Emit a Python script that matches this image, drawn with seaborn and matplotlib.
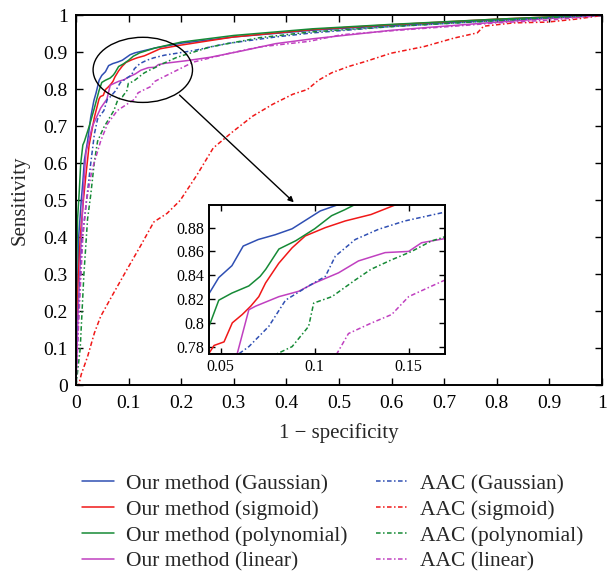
import matplotlib
matplotlib.use("Agg")
import matplotlib.pyplot as plt
import seaborn as sns
from matplotlib.patches import Ellipse
from matplotlib.ticker import FormatStrFormatter

# ROC curves (x = 1 - specificity, y = sensitivity)
our_gauss_x = [0, 0.002, 0.005, 0.010, 0.013, 0.016, 0.022, 0.028, 0.034, 0.038, 0.044, 0.049, 0.056, 0.062,
               0.070, 0.079, 0.088, 0.096, 0.103, 0.112, 0.150, 0.200, 0.300, 0.450, 0.600, 0.800, 0.900, 1.0]
our_gauss_y = [0, 0.20, 0.40, 0.50, 0.55, 0.61, 0.66, 0.725, 0.77, 0.79, 0.825, 0.838, 0.848, 0.8645,
               0.870, 0.874, 0.879, 0.887, 0.894, 0.899, 0.912, 0.925, 0.942, 0.960, 0.973, 0.988, 0.995, 1.0]

our_sigm_x = [0, 0.003, 0.008, 0.014, 0.019, 0.025, 0.035, 0.0438, 0.0465, 0.0518, 0.0562, 0.0615, 0.066, 0.0703,
              0.0739, 0.0809, 0.088, 0.095, 0.1057, 0.1163, 0.130, 0.1428, 0.160, 0.200, 0.300, 0.450, 0.600,
              0.800, 0.900, 1.0]
our_sigm_y = [0, 0.25, 0.40, 0.50, 0.57, 0.65, 0.725, 0.7744, 0.781, 0.784, 0.800, 0.807, 0.814, 0.822,
              0.8335, 0.850, 0.863, 0.873, 0.880, 0.8856, 0.891, 0.899, 0.910, 0.920, 0.942, 0.962, 0.975,
              0.990, 0.996, 1.0]

our_poly_x = [0, 0.001, 0.003, 0.006, 0.009, 0.013, 0.016, 0.025, 0.035, 0.0438, 0.049, 0.056, 0.065, 0.071,
              0.074, 0.081, 0.090, 0.100, 0.109, 0.116, 0.121, 0.150, 0.200, 0.300, 0.450, 0.600, 0.800, 0.900, 1.0]
our_poly_y = [0, 0.30, 0.45, 0.52, 0.60, 0.65, 0.66, 0.70, 0.75, 0.797, 0.819, 0.825, 0.831, 0.839,
              0.845, 0.862, 0.869, 0.879, 0.890, 0.895, 0.899, 0.912, 0.928, 0.946, 0.964, 0.976, 0.990, 0.996, 1.0]

our_lin_x = [0, 0.004, 0.010, 0.015, 0.019, 0.031, 0.047, 0.0588, 0.065, 0.0686, 0.081, 0.0915, 0.100, 0.1127,
             0.1233, 0.1375, 0.150, 0.1569, 0.169, 0.211, 0.255, 0.318, 0.380, 0.450, 0.600, 0.800, 0.900, 1.0]
our_lin_y = [0, 0.20, 0.40, 0.55, 0.63, 0.70, 0.75, 0.774, 0.811, 0.814, 0.822, 0.8265, 0.8335, 0.842,
             0.852, 0.859, 0.860, 0.8673, 0.8707, 0.878, 0.887, 0.905, 0.924, 0.937, 0.960, 0.982, 0.992, 1.0]

aac_gauss_x = [0, 0.005, 0.012, 0.020, 0.028, 0.035, 0.041, 0.053, 0.0597, 0.065, 0.0756, 0.0845, 0.0968, 0.1057,
               0.111, 0.1216, 0.134, 0.148, 0.1684, 0.192, 0.223, 0.286, 0.380, 0.450, 0.600, 0.800, 0.900, 1.0]
aac_gauss_y = [0, 0.20, 0.40, 0.50, 0.60, 0.68, 0.72, 0.743, 0.774, 0.780, 0.797, 0.819, 0.831, 0.839,
               0.856, 0.870, 0.8786, 0.8856, 0.8927, 0.898, 0.905, 0.924, 0.942, 0.953, 0.970, 0.986, 0.994, 1.0]

aac_sigm_x = [0, 0.005, 0.010, 0.022, 0.035, 0.047, 0.072, 0.0975, 0.123, 0.148, 0.173, 0.198, 0.230, 0.261,
              0.299, 0.336, 0.374, 0.412, 0.440, 0.461, 0.486, 0.518, 0.549, 0.599, 0.662, 0.719, 0.763, 0.775,
              0.832, 0.895, 0.950, 1.0]
aac_sigm_y = [0, 0.0, 0.03, 0.078, 0.142, 0.187, 0.251, 0.315, 0.378, 0.442, 0.465, 0.500, 0.569, 0.642,
              0.687, 0.728, 0.760, 0.787, 0.800, 0.825, 0.845, 0.862, 0.875, 0.898, 0.916, 0.939, 0.953, 0.971,
              0.980, 0.982, 0.990, 1.0]

aac_poly_x = [0, 0.008, 0.015, 0.022, 0.028, 0.035, 0.041, 0.053, 0.072, 0.080, 0.088, 0.0968, 0.0995, 0.1092,
              0.1216, 0.130, 0.141, 0.1516, 0.162, 0.168, 0.192, 0.255, 0.349, 0.443, 0.600, 0.800, 0.900, 1.0]
aac_poly_y = [0, 0.10, 0.30, 0.45, 0.515, 0.605, 0.66, 0.698, 0.743, 0.774, 0.780, 0.797, 0.8166, 0.822,
              0.836, 0.845, 0.853, 0.860, 0.8687, 0.8716, 0.887, 0.915, 0.940, 0.955, 0.970, 0.986, 0.994, 1.0]

aac_lin_x = [0, 0.006, 0.013, 0.020, 0.030, 0.047, 0.060, 0.0785, 0.1118, 0.118, 0.130, 0.141, 0.150, 0.162,
             0.168, 0.223, 0.286, 0.349, 0.443, 0.505, 0.612, 0.738, 0.800, 0.895, 1.0]
aac_lin_y = [0, 0.20, 0.40, 0.50, 0.58, 0.661, 0.707, 0.743, 0.774, 0.791, 0.7997, 0.807, 0.822, 0.8307,
             0.835, 0.874, 0.896, 0.915, 0.930, 0.948, 0.960, 0.973, 0.980, 0.987, 1.0]

labels = ["Our method (Gaussian)", "Our method (sigmoid)", "Our method (polynomial)", "Our method (linear)",
          "AAC (Gaussian)", "AAC (sigmoid)", "AAC (polynomial)", "AAC (linear)"]
curves = [(our_gauss_x, our_gauss_y), (our_sigm_x, our_sigm_y), (our_poly_x, our_poly_y), (our_lin_x, our_lin_y),
          (aac_gauss_x, aac_gauss_y), (aac_sigm_x, aac_sigm_y), (aac_poly_x, aac_poly_y), (aac_lin_x, aac_lin_y)]
colors = ["#2f4fb3", "#f01818", "#168a36", "#c040c0"] * 2
dashdot = (0, (3, 1.6, 1, 1.6))
styles = ["-"] * 4 + [dashdot] * 4

sns.set_style("ticks")
plt.rcParams["font.family"] = ["Liberation Serif", "DejaVu Serif"]

fig = plt.figure(figsize=(6.07, 5.71), dpi=100)
ax = fig.add_axes([0.1252, 0.3249, 0.8665, 0.648])

handles = []
for (xs, ys), c, ls, lab in zip(curves, colors, styles, labels):
    sns.lineplot(x=xs, y=ys, ax=ax, color=c, linestyle=ls, lw=1.1, sort=False, estimator=None, legend=False)
    line = ax.lines[-1]
    line.set_label(lab)
    handles.append(line)

ax.set_xlim(0, 1)
ax.set_ylim(0, 1)
ax.set_xticks([i / 10 for i in range(11)])
ax.set_yticks([i / 10 for i in range(11)])
ax.xaxis.set_major_formatter(FormatStrFormatter("%g"))
ax.yaxis.set_major_formatter(FormatStrFormatter("%g"))
ax.tick_params(direction="in", top=True, right=True, length=5, width=1, labelsize=14, colors="black")
ax.tick_params(axis="x", pad=7)
ax.tick_params(axis="y", pad=6)
for sp in ax.spines.values():
    sp.set_linewidth(1.4)
    sp.set_color("black")
ax.set_xlabel("1 \u2212 specificity", fontsize=15, labelpad=8)
ax.set_ylabel("Sensitivity", fontsize=15, labelpad=10)

# zoom ellipse and arrow
ax.add_patch(Ellipse((0.127, 0.853), 0.189, 0.176, fill=False, ec="black", lw=1.0, zorder=5))
ax.annotate("", xy=(0.418, 0.49), xytext=(0.193, 0.79),
            arrowprops=dict(arrowstyle="-|>", color="black", lw=1.0, mutation_scale=8), zorder=6)

# inset
axin = fig.add_axes([0.3443, 0.380, 0.389, 0.261])
for (xs, ys), c, ls in zip(curves, colors, styles):
    sns.lineplot(x=xs, y=ys, ax=axin, color=c, linestyle=ls, lw=1.1, sort=False, estimator=None, legend=False)
axin.set_xlim(0.0438, 0.1694)
axin.set_ylim(0.7738, 0.899)
axin.set_xticks([0.05, 0.1, 0.15])
axin.set_yticks([0.78, 0.8, 0.82, 0.84, 0.86, 0.88])
axin.xaxis.set_major_formatter(FormatStrFormatter("%g"))
axin.yaxis.set_major_formatter(FormatStrFormatter("%g"))
axin.tick_params(direction="in", top=True, right=True, length=4, width=1, labelsize=11.5, colors="black")
axin.set_xlabel("")
axin.set_ylabel("")
for sp in axin.spines.values():
    sp.set_linewidth(1.4)
    sp.set_color("black")

fig.legend(handles=handles, labels=labels, ncol=2, loc="upper left", bbox_to_anchor=(0.135, 0.170),
           frameon=False, fontsize=15.5, handlelength=1.5, handletextpad=0.55, columnspacing=1.3,
           labelspacing=0.27, borderpad=0, borderaxespad=0)

fig.savefig("out.png", dpi=100)
